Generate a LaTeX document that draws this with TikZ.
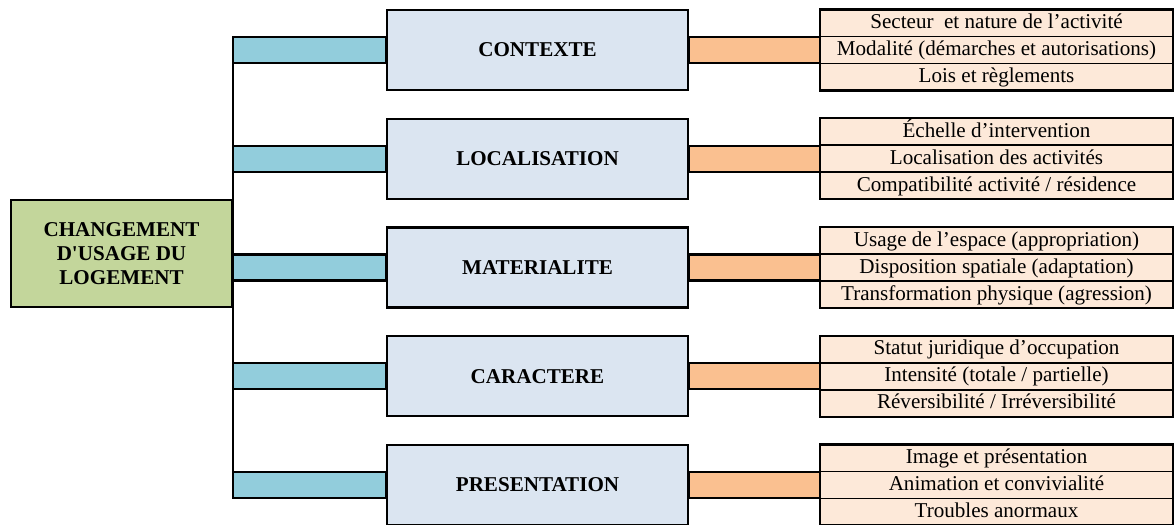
\documentclass[tikz,border=0pt]{standalone}
\usepackage{fontspec}
\setmainfont{Liberation Serif}
\usetikzlibrary{positioning,calc}

\definecolor{rootgreen}{HTML}{C3D69B}
\definecolor{themeblue}{HTML}{DBE5F1}
\definecolor{barblue}{HTML}{92CDDC}
\definecolor{barpeach}{HTML}{FAC090}
\definecolor{itempeach}{HTML}{FDE9D9}

\tikzset{
    frame/.style={draw=black, line width=1.3pt},
    root box/.style={frame, fill=rootgreen, minimum width=4.42cm, minimum height=2.14cm,
        inner sep=0pt, align=center, font=\fontsize{12}{13.8}\selectfont\bfseries},
    theme box/.style={frame, fill=themeblue, minimum width=6.02cm, minimum height=1.6cm,
        font=\fontsize{12}{13}\selectfont\bfseries},
    item row/.style={draw=black, line width=1pt, fill=itempeach, minimum width=7.06cm,
        minimum height=0.54cm, inner sep=0pt, outer sep=0pt, text height=9pt, text depth=2.5pt,
        font=\fontsize{12}{13}\selectfont},
    blue bar/.style={frame, fill=barblue},
    peach bar/.style={frame, fill=barpeach},
}
\newcommand{\barhalf}{0.26}

\begin{document}
\begin{tikzpicture}
    \useasboundingbox (0,0) rectangle (23.48,10.48);

    % Root of the tree
    \node[root box] (root) at (2.43,5.41) {CHANGEMENT\\D\textquotesingle USAGE DU\\LOGEMENT};
    \coordinate (spine) at (root.east);

    % One branch per theme: theme box, its three items, and the two bars
    \foreach \name/\title/\ia/\ib/\ic [count=\i from 0] in {
        ctx/CONTEXTE/{Secteur~ et nature de l’activité}/{Modalité (démarches et autorisations)}/{Lois et règlements},
        loc/LOCALISATION/{Échelle d’intervention}/{Localisation des activités}/{Compatibilité activité / résidence},
        mat/MATERIALITE/{Usage de l’espace (appropriation)}/{Disposition spatiale (adaptation)}/{Transformation physique (agression)},
        car/CARACTERE/{Statut juridique d’occupation}/{Intensité (totale / partielle)}/{Réversibilité / Irréversibilité},
        pre/PRESENTATION/{Image et présentation}/{Animation et convivialité}/{Troubles anormaux}} {
        \node[theme box] (\name) at ({10.75},{9.48-2.175*\i}) {\title};

        \node[item row] (\name-2) at ({19.93},{9.48-2.175*\i}) {\ib};
        \node[item row, above=0pt of \name-2] (\name-1) {\ia};
        \node[item row, below=0pt of \name-2] (\name-3) {\ic};
        \draw[frame] (\name-1.north west) rectangle (\name-3.south east);

        \filldraw[blue bar] ($(spine |- \name.west)+(0,\barhalf)$) rectangle ($(\name.west)+(0,-\barhalf)$);
        \filldraw[peach bar] ($(\name.east)+(0,\barhalf)$) rectangle ($(\name-2.west)+(0,-\barhalf)$);
    }

    % Vertical spine joining the branches
    \draw[frame] ($(spine |- ctx.west)+(0,\barhalf)$) -- ($(spine |- pre.west)+(0,-\barhalf)$);

\end{tikzpicture}
\end{document}
